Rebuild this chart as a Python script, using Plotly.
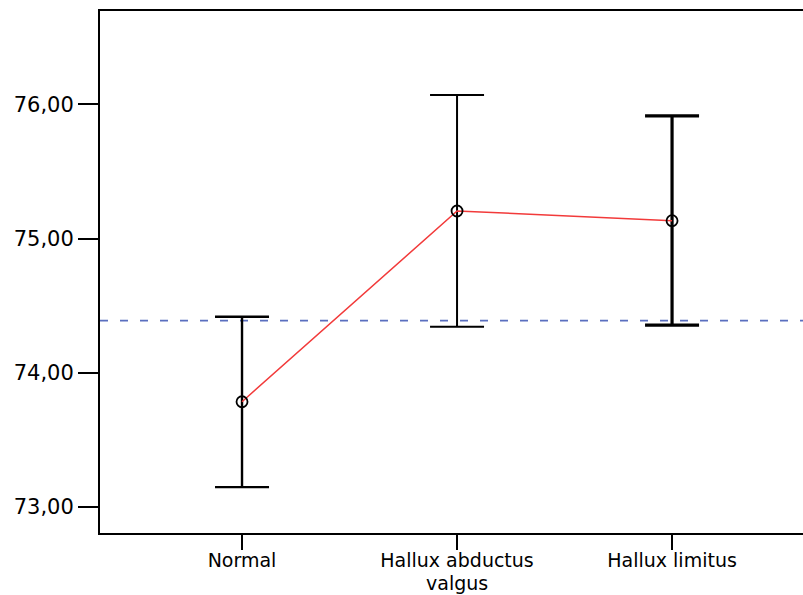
import plotly.graph_objects as go

categories = ["Normal", "Hallux abductus", "Hallux limitus"]
category_second_line = ["", "valgus", ""]
means = [73.784, 75.205, 75.133]
upper = [74.417, 76.069, 75.913]
lower = [73.148, 74.343, 74.355]
grand_mean = 74.388
y_ticks = [73, 74, 75, 76]
y_tick_labels = ["73,00", "74,00", "75,00", "76,00"]

x_idx = list(range(len(categories)))
err_plus = [u - m for u, m in zip(upper, means)]
err_minus = [m - l for m, l in zip(means, lower)]

FONT = "DejaVu Sans, Liberation Sans, Arial, sans-serif"
X_RANGE = [-0.6605, 2.609]

fig = go.Figure()

# Grand mean dashed reference line
fig.add_trace(go.Scatter(
    x=X_RANGE, y=[grand_mean, grand_mean], mode="lines",
    line=dict(color="#5a6fbf", width=1.6, dash="8px,12px"),
    hoverinfo="skip", showlegend=False))

# Error bars (one trace per group so widths can differ slightly)
thick = [2.4, 2.0, 3.2]
for i in x_idx:
    fig.add_trace(go.Scatter(
        x=[i], y=[means[i]], mode="markers",
        marker=dict(size=1, color="rgba(0,0,0,0)"),
        error_y=dict(type="data", symmetric=False,
                     array=[err_plus[i]], arrayminus=[err_minus[i]],
                     color="black", thickness=thick[i], width=27),
        showlegend=False))

# Mean line
fig.add_trace(go.Scatter(
    x=x_idx, y=means, mode="lines",
    line=dict(color="#f23a3a", width=1.5), showlegend=False))

# Mean markers
fig.add_trace(go.Scatter(
    x=x_idx, y=means, mode="markers",
    marker=dict(symbol="circle-open", size=11, color="black",
                line=dict(width=1.8, color="black")),
    showlegend=False))

# Second lines of wrapped category labels
for i, txt in enumerate(category_second_line):
    if txt:
        fig.add_annotation(x=i, xref="x", y=-0.1188, yref="paper",
                           text=txt, showarrow=False, yanchor="bottom",
                           borderpad=0,
                           font=dict(family=FONT, size=19, color="black"))

fig.update_layout(
    width=803, height=595,
    margin=dict(l=100, r=0, t=11, b=62),
    paper_bgcolor="white", plot_bgcolor="white",
    font=dict(family=FONT, size=21, color="black"),
    showlegend=False,
)
fig.update_xaxes(
    range=X_RANGE, tickmode="array", tickvals=x_idx, ticktext=categories,
    showgrid=False, zeroline=False, showline=True, linecolor="black", linewidth=2,
    ticks="outside", ticklen=15, tickwidth=2, tickcolor="black", mirror=True,
    tickfont=dict(size=19), automargin=False, ticklabelstandoff=-6)
fig.update_yaxes(
    range=[72.806, 76.695], tickmode="array", tickvals=y_ticks, ticktext=y_tick_labels,
    showgrid=False, zeroline=False, showline=True, linecolor="black", linewidth=2,
    ticks="outside", ticklen=20, tickwidth=2, tickcolor="black", mirror=True,
    tickfont=dict(size=21), automargin=False)

fig.write_html("out.html")
